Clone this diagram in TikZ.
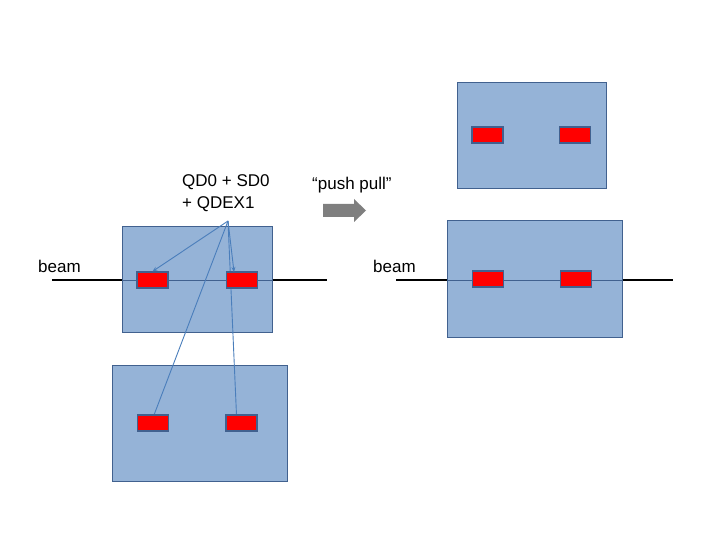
\documentclass[tikz,border=0pt]{standalone}
\usepackage{fontspec}
\setmainfont{Liberation Sans}
\usetikzlibrary{calc,arrows.meta}
\definecolor{boxfill}{HTML}{95B3D7}
\definecolor{boxline}{HTML}{41618F}
\definecolor{callout}{HTML}{4A7EBB}
\definecolor{arrowgray}{HTML}{7F7F7F}
\tikzset{
  frame/.style={draw=boxline, fill=boxfill, line width=1.3pt, minimum width=#1, anchor=north west, inner sep=0pt},
  magnet/.style={draw=boxline, fill=red, line width=1.2pt, minimum width=31pt, minimum height=16pt, inner sep=0pt},
  lbl/.style={font=\fontsize{17}{22}\selectfont, inner sep=0pt},
  beamline/.style={line width=1.6pt, black},
  inbeam/.style={line width=1pt, boxline},
  pointer/.style={callout, line width=0.9pt},
}
\begin{document}
\begin{tikzpicture}[x=1pt,y=-1pt]
\useasboundingbox (0,0) rectangle (720,540);
% left side
\node[frame=150pt, minimum height=106pt] (bA) at (122,226) {};
\node[frame=175pt, minimum height=116pt] (bB) at (112,365) {};
\coordinate (beamLa) at (52,280);
\coordinate (beamLb) at (327,280);
\draw[beamline] (beamLa) -- (bA.west |- beamLa);
\draw[beamline] (bA.east |- beamLb) -- (beamLb);
\draw[inbeam] (bA.west |- beamLa) -- (bA.east |- beamLb);
\coordinate (pA1) at (152.5,272);
\coordinate (pA2) at (234,272);
\coordinate (pB1) at (154,415);
\coordinate (pB2) at (236.5,415);
\coordinate (src) at (228,221);
\draw[pointer] (src) -- (pB1);
\draw[pointer] (src) -- (pB2);
\node[magnet] (mA1) at (152.5,280) {};
\node[magnet] (mA2) at (242,280) {};
\node[magnet] (mB1) at (153,423) {};
\node[magnet] (mB2) at (241.5,423) {};
\draw[pointer, -{Stealth[length=5pt,width=4pt]}] (src) -- (mA1.north);
\draw[pointer, -{Stealth[length=5pt,width=4pt]}] (src) -- (pA2);
\node[lbl, anchor=base west] (lbeamL) at (38,272) {beam};
\node[lbl, anchor=north west, align=left] (qlab) at (182,174) {QD0 + SD0\\+ QDEX1};
% arrow and push pull
\node[lbl, anchor=base west] (pp) at (312,190) {“push pull”};
\coordinate (arr) at (323,210.5);
\fill[arrowgray] (arr) ++(0,-6.5) -- ++(31,0) -- ++(0,-5) -- ++(12,11.5) -- ++(-12,11.5) -- ++(0,-5) -- ++(-31,0) -- cycle;
% right side
\node[frame=149pt, minimum height=106pt] (bC) at (457,82) {};
\node[frame=175pt, minimum height=117pt] (bD) at (447,220) {};
\coordinate (beamRa) at (396,280);
\coordinate (beamRb) at (673,280);
\draw[beamline] (beamRa) -- (bD.west |- beamRa);
\draw[beamline] (bD.east |- beamRb) -- (beamRb);
\draw[inbeam] (bD.west |- beamRa) -- (bD.east |- beamRb);
\node[magnet] (mC1) at (487.5,135) {};
\node[magnet] (mC2) at (575,135) {};
\node[magnet] (mD1) at (488,279) {};
\node[magnet] (mD2) at (576,279) {};
\node[lbl, anchor=base west] (lbeamR) at (373,272) {beam};
\end{tikzpicture}
\end{document}
